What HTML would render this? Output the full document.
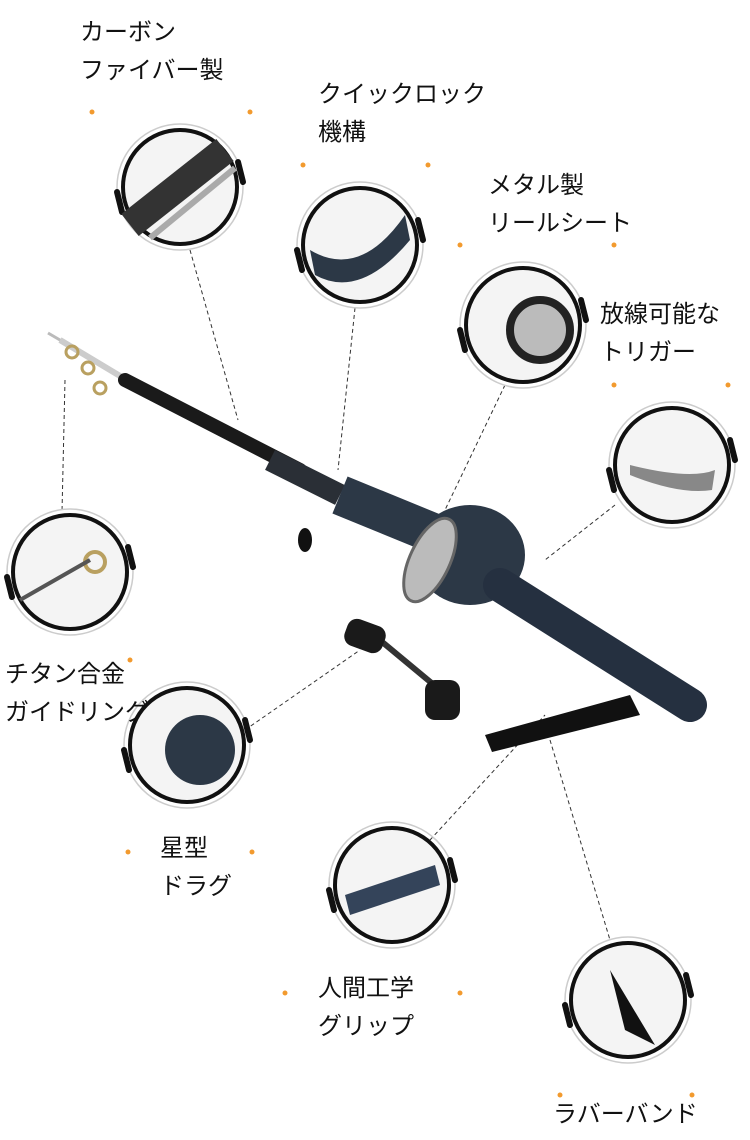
<!DOCTYPE html>
<html><head><meta charset="utf-8"><style>
html,body{margin:0;padding:0;background:#fff;}
body{width:750px;height:1140px;position:relative;overflow:hidden;font-family:"Liberation Sans","Noto Sans CJK JP",sans-serif;}
.t{position:absolute;font-size:24px;line-height:38px;color:#111;white-space:nowrap;}
</style></head><body>
<svg width="750" height="1140" style="position:absolute;left:0;top:0">
<defs>
<g id="ring">
<circle r="63" fill="none" stroke="#ccc" stroke-width="1.5"/>
<circle r="57" fill="#f4f4f4" stroke="#111" stroke-width="4"/>
<line x1="-63" y1="5" x2="-58" y2="25" stroke="#111" stroke-width="6" stroke-linecap="round"/>
<line x1="63" y1="-5" x2="58" y2="-25" stroke="#111" stroke-width="6" stroke-linecap="round"/>
</g>
</defs>
<g stroke="#333" stroke-width="1" stroke-dasharray="4,3" fill="none">
<line x1="190" y1="250" x2="238" y2="420"/>
<line x1="355" y1="308" x2="338" y2="470"/>
<line x1="505" y1="385" x2="445" y2="510"/>
<line x1="615" y1="505" x2="545" y2="560"/>
<line x1="65" y1="380" x2="62" y2="512"/>
<line x1="245" y1="730" x2="360" y2="650"/>
<line x1="430" y1="840" x2="545" y2="715"/>
<line x1="550" y1="740" x2="610" y2="940"/>
</g>
<!-- rod -->
<line x1="48" y1="333" x2="125" y2="378" stroke="#bbb" stroke-width="3"/>
<line x1="60" y1="340" x2="130" y2="382" stroke="#ccc" stroke-width="6"/>
<circle cx="72" cy="352" r="6" fill="none" stroke="#b9a060" stroke-width="3"/>
<circle cx="88" cy="368" r="6" fill="none" stroke="#b9a060" stroke-width="3"/>
<circle cx="100" cy="388" r="6" fill="none" stroke="#b9a060" stroke-width="3"/>
<line x1="125" y1="380" x2="300" y2="470" stroke="#1a1a1a" stroke-width="14" stroke-linecap="round"/>
<line x1="270" y1="460" x2="340" y2="495" stroke="#2a2f36" stroke-width="22"/>
<line x1="340" y1="495" x2="450" y2="540" stroke="#2c3846" stroke-width="40"/>
<ellipse cx="470" cy="555" rx="55" ry="50" fill="#2c3846"/>
<ellipse cx="430" cy="560" rx="20" ry="45" fill="#bbb" stroke="#666" stroke-width="3" transform="rotate(25 430 560)"/>
<line x1="500" y1="585" x2="690" y2="705" stroke="#253040" stroke-width="34" stroke-linecap="round"/>
<ellipse cx="305" cy="540" rx="7" ry="12" fill="#111"/>
<line x1="375" y1="636" x2="440" y2="690" stroke="#333" stroke-width="6"/>
<rect x="345" y="622" width="40" height="28" rx="10" fill="#1a1a1a" transform="rotate(20 365 636)"/>
<rect x="425" y="680" width="35" height="40" rx="10" fill="#1a1a1a"/>
<polygon points="485,735 630,695 640,715 492,752" fill="#111"/>
<use href="#ring" x="180" y="187"/>
<line x1="130" y1="225" x2="225" y2="150" stroke="#333" stroke-width="28"/>
<line x1="150" y1="238" x2="235" y2="168" stroke="#aaa" stroke-width="6"/>
<use href="#ring" x="360" y="245"/>
<path d="M310 250 Q360 280 405 215 L410 240 Q360 300 315 275Z" fill="#2c3846"/>
<use href="#ring" x="523" y="325"/>
<circle cx="540" cy="330" r="30" fill="#bbb" stroke="#222" stroke-width="8"/>
<use href="#ring" x="672" y="465"/>
<path d="M630 465 Q690 480 715 470 L712 490 Q680 495 630 475Z" fill="#888"/>
<use href="#ring" x="70" y="572"/>
<circle cx="95" cy="562" r="10" fill="none" stroke="#b9a060" stroke-width="4"/>
<line x1="20" y1="600" x2="90" y2="560" stroke="#555" stroke-width="4"/>
<use href="#ring" x="187" y="745"/>
<circle cx="200" cy="750" r="35" fill="#2c3846"/>
<use href="#ring" x="392" y="885"/>
<path d="M345 895 L435 865 L440 885 L350 915Z" fill="#34445a"/>
<use href="#ring" x="628" y="1000"/>
<path d="M610 970 L625 1030 L655 1045 L640 1020Z" fill="#111"/>
<g fill="#f29a2e">
<circle cx="92" cy="112" r="2.5"/><circle cx="250" cy="112" r="2.5"/>
<circle cx="303" cy="165" r="2.5"/><circle cx="428" cy="165" r="2.5"/>
<circle cx="460" cy="245" r="2.5"/><circle cx="614" cy="245" r="2.5"/>
<circle cx="614" cy="385" r="2.5"/><circle cx="728" cy="385" r="2.5"/>
<circle cx="130" cy="660" r="2.5"/>
<circle cx="128" cy="852" r="2.5"/><circle cx="252" cy="852" r="2.5"/>
<circle cx="285" cy="993" r="2.5"/><circle cx="460" cy="993" r="2.5"/>
<circle cx="560" cy="1095" r="2.5"/><circle cx="692" cy="1095" r="2.5"/>
</g>
</svg>
<div class="t" style="left:80px;top:14px">カーボン<br>ファイバー製</div>
<div class="t" style="left:318px;top:76px">クイックロック<br>機構</div>
<div class="t" style="left:488px;top:167px">メタル製<br>リールシート</div>
<div class="t" style="left:600px;top:296px">放線可能な<br>トリガー</div>
<div class="t" style="left:5px;top:656px">チタン合金<br>ガイドリング</div>
<div class="t" style="left:160px;top:830px">星型<br>ドラグ</div>
<div class="t" style="left:318px;top:970px">人間工学<br>グリップ</div>
<div class="t" style="left:553px;top:1096px">ラバーバンド</div>
</body></html>
